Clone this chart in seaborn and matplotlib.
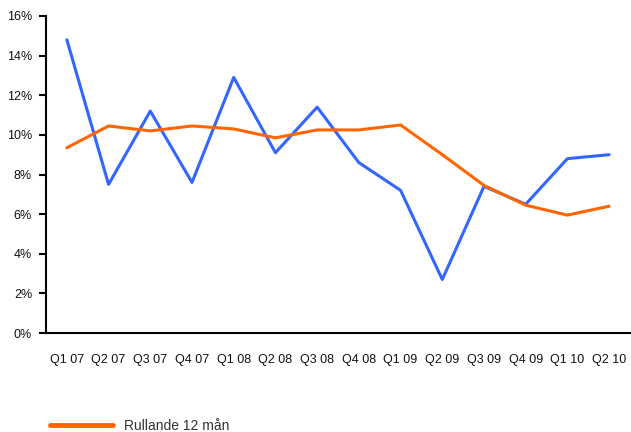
import numpy as np
import pandas as pd
import matplotlib
matplotlib.use("Agg")
import matplotlib.pyplot as plt
import matplotlib.ticker as ticker
import seaborn as sns

# data (percent)
quarters = ["Q1 07", "Q2 07", "Q3 07", "Q4 07", "Q1 08", "Q2 08", "Q3 08",
            "Q4 08", "Q1 09", "Q2 09", "Q3 09", "Q4 09", "Q1 10", "Q2 10"]
kvartal = [14.8, 7.5, 11.2, 7.6, 12.9, 9.1, 11.4, 8.6, 7.2, 2.7, 7.4, 6.5, 8.8, 9.0]
rullande = [9.35, 10.45, 10.2, 10.45, 10.3, 9.85, 10.25, 10.25, 10.5, 9.0, 7.45, 6.45, 5.95, 6.4]

df = pd.DataFrame({"pos": np.arange(len(quarters)), "kvartal": kvartal, "rullande": rullande})

sns.set_style("white")
plt.rcParams['font.family'] = ['Liberation Sans', 'DejaVu Sans']

fig = plt.figure(figsize=(6.31, 4.32), dpi=100)
ax = fig.add_axes([46 / 631, (432 - 333) / 432, (630 - 46) / 631, (333 - 16) / 432])

sns.lineplot(data=df, x="pos", y="kvartal", ax=ax, color="#3366FF", linewidth=2.2)
sns.lineplot(data=df, x="pos", y="rullande", ax=ax, color="#FF6600", linewidth=2.2,
             label="Rullande 12 mån", legend=False)

ax.set_xlim(-0.5, len(quarters) - 0.5)
ax.set_ylim(0, 16)
ax.set_xlabel("")
ax.set_ylabel("")

# y axis in percent
ax.yaxis.set_major_locator(ticker.MultipleLocator(2))
ax.yaxis.set_major_formatter(ticker.FuncFormatter(lambda v, pos: f"{v:.0f}%"))

# category labels centred, tick marks between categories
ax.set_xticks(df["pos"])
ax.set_xticklabels(quarters)
ax.set_xticks(np.arange(-0.5, len(quarters), 1), minor=True)
ax.tick_params(axis="x", which="major", length=0, pad=15, labelsize=9)
ax.tick_params(axis="x", which="minor", length=5, width=1.5, direction="out", color="black")
ax.tick_params(axis="y", length=5, width=1.5, direction="out", color="black", labelsize=9, pad=5)
ax.tick_params(left=True, bottom=True)
for lbl in ax.get_xticklabels() + ax.get_yticklabels():
    lbl.set_color("#111111")

for side in ["top", "right"]:
    ax.spines[side].set_visible(False)
for side in ["left", "bottom"]:
    ax.spines[side].set_color("black")
    ax.spines[side].set_linewidth(1.5)

handles, labels = ax.get_legend_handles_labels()
leg = fig.legend(handles, labels, loc="center left", bbox_to_anchor=(50 / 631, 6 / 432),
                 frameon=False, fontsize=10, handlelength=4.5, handletextpad=0.8,
                 borderpad=0, borderaxespad=0)
for line in leg.get_lines():
    line.set_linewidth(3.5)
for t in leg.get_texts():
    t.set_color("#333333")

fig.savefig("out.png", dpi=100)
